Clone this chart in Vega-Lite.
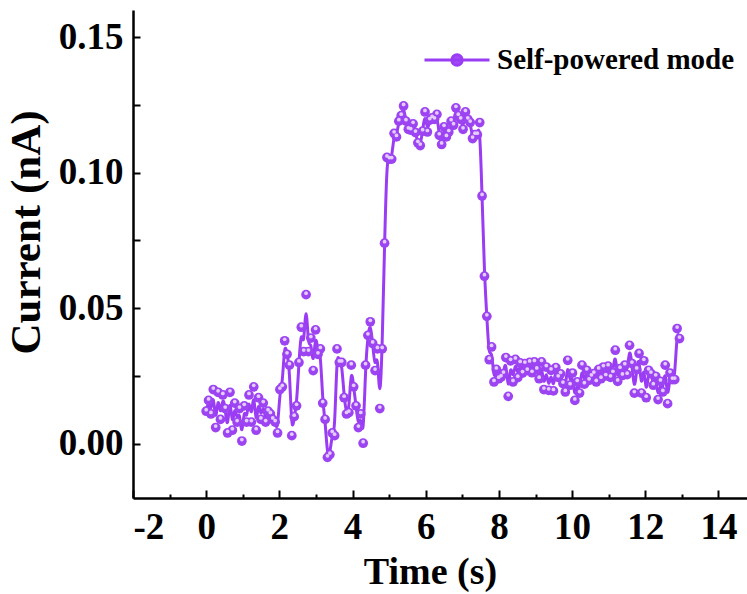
{
  "$schema": "https://vega.github.io/schema/vega-lite/v6.json",
  "width": 614,
  "height": 488,
  "autosize": {"type": "none"},
  "padding": {"left": 133, "top": 10, "right": 0, "bottom": 96},
  "background": "white",
  "config": {
    "view": {"stroke": null},
    "font": "Liberation Serif",
    "axis": {
      "grid": false,
      "domainColor": "black",
      "domainWidth": 2.5,
      "tickColor": "black",
      "tickWidth": 2,
      "labelFont": "Liberation Serif",
      "labelFontWeight": "bold",
      "labelFontSize": 37,
      "labelColor": "black",
      "titleFont": "Liberation Serif",
      "titleFontWeight": "bold",
      "titleFontSize": 38,
      "titleColor": "black"
    }
  },
  "data": {
    "values": [
      {"t": 0.00, "v": 0.012}, {"t": 0.065, "v": 0.016}, {"t": 0.13, "v": 0.011}, {"t": 0.195, "v": 0.020},
      {"t": 0.26, "v": 0.006}, {"t": 0.325, "v": 0.019}, {"t": 0.39, "v": 0.009}, {"t": 0.455, "v": 0.018},
      {"t": 0.52, "v": 0.013}, {"t": 0.585, "v": 0.004}, {"t": 0.65, "v": 0.019}, {"t": 0.715, "v": 0.005},
      {"t": 0.78, "v": 0.015}, {"t": 0.845, "v": 0.008}, {"t": 0.91, "v": 0.013}, {"t": 0.975, "v": 0.001},
      {"t": 1.04, "v": 0.014}, {"t": 1.105, "v": 0.008}, {"t": 1.17, "v": 0.018}, {"t": 1.235, "v": 0.008},
      {"t": 1.30, "v": 0.021}, {"t": 1.365, "v": 0.005}, {"t": 1.43, "v": 0.017}, {"t": 1.495, "v": 0.009},
      {"t": 1.56, "v": 0.015}, {"t": 1.625, "v": 0.008}, {"t": 1.69, "v": 0.012}, {"t": 1.755, "v": 0.011},
      {"t": 1.82, "v": 0.009}, {"t": 1.885, "v": 0.008}, {"t": 1.95, "v": 0.004}, {"t": 2.015, "v": 0.020},
      {"t": 2.08, "v": 0.021}, {"t": 2.145, "v": 0.038}, {"t": 2.21, "v": 0.033}, {"t": 2.275, "v": 0.029},
      {"t": 2.34, "v": 0.003}, {"t": 2.405, "v": 0.010}, {"t": 2.47, "v": 0.014}, {"t": 2.535, "v": 0.030},
      {"t": 2.60, "v": 0.043}, {"t": 2.665, "v": 0.034}, {"t": 2.73, "v": 0.055}, {"t": 2.795, "v": 0.034},
      {"t": 2.86, "v": 0.039}, {"t": 2.925, "v": 0.027}, {"t": 2.99, "v": 0.042}, {"t": 3.055, "v": 0.033},
      {"t": 3.12, "v": 0.035}, {"t": 3.185, "v": 0.015}, {"t": 3.25, "v": 0.009}, {"t": 3.315, "v": -0.005},
      {"t": 3.38, "v": -0.004}, {"t": 3.445, "v": 0.004}, {"t": 3.51, "v": 0.003}, {"t": 3.575, "v": 0.035},
      {"t": 3.64, "v": 0.030}, {"t": 3.705, "v": 0.030}, {"t": 3.77, "v": 0.017}, {"t": 3.835, "v": 0.011},
      {"t": 3.90, "v": 0.0115}, {"t": 3.965, "v": 0.029}, {"t": 4.03, "v": 0.021}, {"t": 4.095, "v": 0.014},
      {"t": 4.16, "v": 0.006}, {"t": 4.225, "v": 0.011}, {"t": 4.29, "v": 0.0002}, {"t": 4.355, "v": 0.029},
      {"t": 4.42, "v": 0.040}, {"t": 4.485, "v": 0.045}, {"t": 4.55, "v": 0.037}, {"t": 4.615, "v": 0.027},
      {"t": 4.68, "v": 0.035}, {"t": 4.745, "v": 0.013}, {"t": 4.81, "v": 0.035}, {"t": 4.875, "v": 0.074},
      {"t": 4.94, "v": 0.1056}, {"t": 5.005, "v": 0.105}, {"t": 5.07, "v": 0.105}, {"t": 5.135, "v": 0.1145},
      {"t": 5.20, "v": 0.1132}, {"t": 5.265, "v": 0.119}, {"t": 5.33, "v": 0.121}, {"t": 5.395, "v": 0.1246},
      {"t": 5.46, "v": 0.119}, {"t": 5.525, "v": 0.116}, {"t": 5.59, "v": 0.1157}, {"t": 5.655, "v": 0.118},
      {"t": 5.72, "v": 0.1148}, {"t": 5.785, "v": 0.111}, {"t": 5.85, "v": 0.110}, {"t": 5.915, "v": 0.1153},
      {"t": 5.98, "v": 0.1224}, {"t": 6.045, "v": 0.115}, {"t": 6.11, "v": 0.1194}, {"t": 6.175, "v": 0.1202},
      {"t": 6.24, "v": 0.1197}, {"t": 6.305, "v": 0.1215}, {"t": 6.37, "v": 0.1138}, {"t": 6.435, "v": 0.1104},
      {"t": 6.50, "v": 0.1169}, {"t": 6.565, "v": 0.1132}, {"t": 6.63, "v": 0.115}, {"t": 6.695, "v": 0.119},
      {"t": 6.76, "v": 0.1175}, {"t": 6.825, "v": 0.1239}, {"t": 6.89, "v": 0.121}, {"t": 6.955, "v": 0.1197},
      {"t": 7.02, "v": 0.116}, {"t": 7.085, "v": 0.1224}, {"t": 7.15, "v": 0.1197}, {"t": 7.215, "v": 0.1185},
      {"t": 7.28, "v": 0.1126}, {"t": 7.345, "v": 0.114}, {"t": 7.41, "v": 0.114}, {"t": 7.475, "v": 0.1185},
      {"t": 7.54, "v": 0.0914}, {"t": 7.605, "v": 0.0618}, {"t": 7.67, "v": 0.047}, {"t": 7.735, "v": 0.031},
      {"t": 7.80, "v": 0.0357}, {"t": 7.865, "v": 0.0228}, {"t": 7.93, "v": 0.0274}, {"t": 7.995, "v": 0.024},
      {"t": 8.06, "v": 0.0246}, {"t": 8.125, "v": 0.0259}, {"t": 8.19, "v": 0.0318}, {"t": 8.255, "v": 0.0175},
      {"t": 8.32, "v": 0.0306}, {"t": 8.385, "v": 0.0228}, {"t": 8.45, "v": 0.0311}, {"t": 8.515, "v": 0.0244},
      {"t": 8.58, "v": 0.0298}, {"t": 8.645, "v": 0.0261}, {"t": 8.71, "v": 0.0296}, {"t": 8.775, "v": 0.027},
      {"t": 8.84, "v": 0.030}, {"t": 8.905, "v": 0.0262}, {"t": 8.97, "v": 0.0302}, {"t": 9.035, "v": 0.0274},
      {"t": 9.10, "v": 0.024}, {"t": 9.165, "v": 0.0302}, {"t": 9.23, "v": 0.020}, {"t": 9.295, "v": 0.0283},
      {"t": 9.36, "v": 0.0197}, {"t": 9.425, "v": 0.0271}, {"t": 9.49, "v": 0.0195}, {"t": 9.555, "v": 0.0281},
      {"t": 9.62, "v": 0.0245}, {"t": 9.685, "v": 0.0258}, {"t": 9.75, "v": 0.0222}, {"t": 9.815, "v": 0.0191},
      {"t": 9.88, "v": 0.0308}, {"t": 9.945, "v": 0.0216}, {"t": 10.01, "v": 0.0261}, {"t": 10.075, "v": 0.016},
      {"t": 10.14, "v": 0.0228}, {"t": 10.205, "v": 0.0187}, {"t": 10.27, "v": 0.029}, {"t": 10.335, "v": 0.022},
      {"t": 10.40, "v": 0.0271}, {"t": 10.465, "v": 0.0234}, {"t": 10.53, "v": 0.0249}, {"t": 10.595, "v": 0.0259},
      {"t": 10.66, "v": 0.0228}, {"t": 10.725, "v": 0.0274}, {"t": 10.79, "v": 0.024}, {"t": 10.855, "v": 0.0283},
      {"t": 10.92, "v": 0.025}, {"t": 10.985, "v": 0.0286}, {"t": 11.05, "v": 0.0245}, {"t": 11.115, "v": 0.0262},
      {"t": 11.18, "v": 0.0345}, {"t": 11.245, "v": 0.023}, {"t": 11.31, "v": 0.0277}, {"t": 11.375, "v": 0.0252},
      {"t": 11.44, "v": 0.029}, {"t": 11.505, "v": 0.0255}, {"t": 11.57, "v": 0.0363}, {"t": 11.635, "v": 0.0296},
      {"t": 11.70, "v": 0.0187}, {"t": 11.765, "v": 0.0274}, {"t": 11.83, "v": 0.0333}, {"t": 11.895, "v": 0.0187},
      {"t": 11.96, "v": 0.0306}, {"t": 12.025, "v": 0.017}, {"t": 12.09, "v": 0.0271}, {"t": 12.155, "v": 0.0259},
      {"t": 12.22, "v": 0.0216}, {"t": 12.285, "v": 0.0249}, {"t": 12.35, "v": 0.0163}, {"t": 12.415, "v": 0.023},
      {"t": 12.48, "v": 0.0191}, {"t": 12.545, "v": 0.029}, {"t": 12.61, "v": 0.0148}, {"t": 12.675, "v": 0.0261},
      {"t": 12.74, "v": 0.0237}, {"t": 12.805, "v": 0.0237}, {"t": 12.87, "v": 0.0425}, {"t": 12.935, "v": 0.0388}
    ]
  },
  "encoding": {
    "x": {
      "field": "t",
      "type": "quantitative",
      "scale": {"domain": [-2, 14.78], "nice": false, "zero": false},
      "axis": {
        "title": "Time (s)",
        "values": [-2, -1, 0, 1, 2, 3, 4, 5, 6, 7, 8, 9, 10, 11, 12, 13, 14],
        "labelExpr": "datum.value % 2 === 0 ? '' + datum.value : ''",
        "tickSize": {"condition": {"test": "datum.value % 2 === 0", "value": -8}, "value": -4},
        "labelPadding": 19,
        "titlePadding": 8,
        "titleX": 297
      }
    },
    "y": {
      "field": "v",
      "type": "quantitative",
      "scale": {"domain": [-0.02, 0.16], "nice": false, "zero": false},
      "axis": {
        "title": "Current (nA)",
        "titleFontSize": 43,
        "values": [0, 0.025, 0.05, 0.075, 0.1, 0.125, 0.15],
        "labelExpr": "round(datum.value * 1000) % 50 === 0 ? format(datum.value, '.2f') : ''",
        "tickSize": -7,
        "labelPadding": 17,
        "titlePadding": 10,
        "titleY": 222
      }
    }
  },
  "layer": [
    {
      "mark": {"type": "line", "interpolate": "basis", "strokeWidth": 3},
      "encoding": {
        "color": {
          "datum": "Self-powered mode",
          "scale": {"range": ["#9b3cf5"]},
          "legend": {
            "title": null,
            "orient": "none",
            "legendX": 290,
            "legendY": 16,
            "padding": 0,
            "symbolType": "M-1,0H1M-0.16,0A0.16,0.16,0,1,1,0.16,0A0.16,0.16,0,1,1,-0.16,0Z",
            "symbolSize": 4225,
            "symbolStrokeWidth": 3,
            "labelFont": "Liberation Serif",
            "labelFontWeight": "bold",
            "labelFontSize": 29,
            "labelColor": "black",
            "labelLimit": 0,
            "labelOffset": 6,
            "encode": {
              "symbols": {
                "update": {
                  "fill": {"value": "#a24cf5"},
                  "stroke": {"value": "#9b3cf5"},
                  "strokeWidth": {"value": 3}
                }
              }
            }
          }
        }
      }
    },
    {
      "mark": {"type": "point", "filled": true, "size": 95, "color": "#9d44f2", "opacity": 1}
    },
    {
      "mark": {"type": "point", "filled": true, "size": 14, "color": "#e4ccff", "opacity": 1, "yOffset": -1.5}
    }
  ]
}
